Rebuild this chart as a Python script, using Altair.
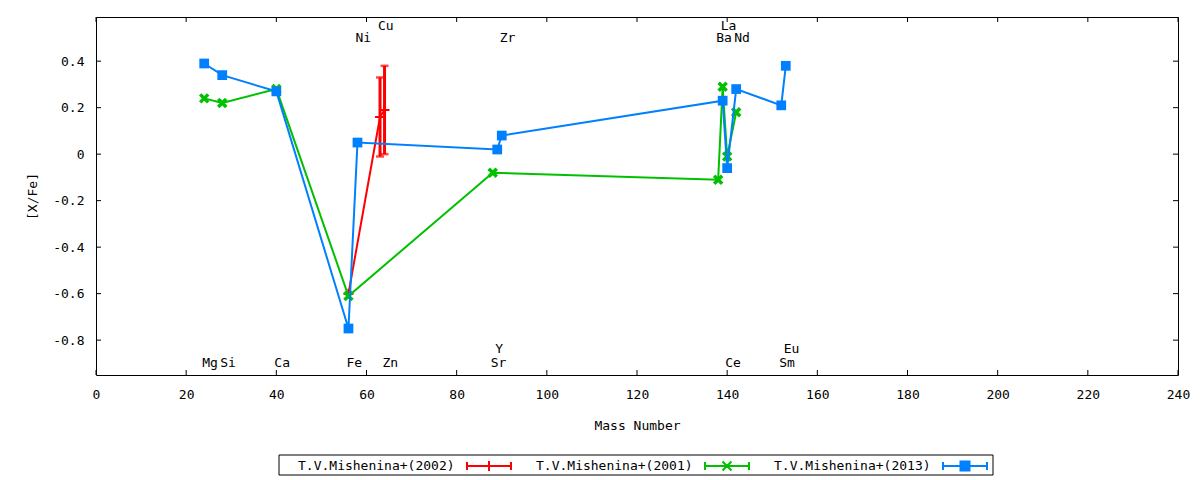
import altair as alt
import pandas as pd

FONT = "DejaVu Sans Mono"

series_names = ["T.V.Mishenina+(2002)", "T.V.Mishenina+(2001)", "T.V.Mishenina+(2013)"]
series_colors = ["#ff0000", "#00c000", "#0080ff"]

red_mass = [56, 63, 64]
red_val = [-0.60, 0.16, 0.19]
red_err = [0.0, 0.17, 0.19]

green_mass = [24, 28, 40, 56, 88, 138, 139, 140, 142]
green_val = [0.24, 0.22, 0.28, -0.61, -0.08, -0.11, 0.29, -0.01, 0.18]

blue_mass = [24, 28, 40, 56, 58, 89, 90, 139, 140, 142, 152, 153]
blue_val = [0.39, 0.34, 0.27, -0.75, 0.05, 0.02, 0.08, 0.23, -0.06, 0.28, 0.21, 0.38]

el_names = ["Mg", "Si", "Ca", "Fe", "Ni", "Cu", "Zn", "Sr", "Y", "Zr", "Ba", "La", "Ce", "Nd", "Sm", "Eu"]
el_mass = [24, 28, 40, 56, 58, 63, 64, 88, 89, 90, 138, 139, 140, 142, 152, 153]
el_label_y = [-0.90, -0.90, -0.90, -0.90, 0.50, 0.55, -0.90, -0.90, -0.84, 0.50, 0.50, 0.55, -0.90, 0.50, -0.90, -0.84]

x_ticks = [0, 20, 40, 60, 80, 100, 120, 140, 160, 180, 200, 220, 240]
y_ticks = [-0.8, -0.6, -0.4, -0.2, 0.0, 0.2, 0.4]

W, H = 1082, 358

xs = alt.Scale(domain=[0, 240], nice=False, zero=False)
ys = alt.Scale(domain=[-0.95, 0.59], nice=False, zero=False)

xax = alt.Axis(values=x_ticks, title="Mass Number", grid=False, ticks=False, tickSize=0,
               domain=False, labelPadding=19, labelBaseline="middle", labelFlush=False,
               labelOverlap=False, labelFont=FONT, labelFontSize=13, labelColor="black",
               titleFont=FONT, titleFontSize=13, titleFontWeight="normal", titleColor="black",
               titleY=50, titleBaseline="middle")
yax = alt.Axis(values=y_ticks, title="[X/Fe]", grid=False, ticks=False, tickSize=0,
               domain=False, labelPadding=12, labelFlush=False, labelOverlap=False,
               labelFont=FONT, labelFontSize=13, labelColor="black",
               labelExpr="datum.value == 0 ? '0' : (datum.value < 0 ? '-' : '') + format(abs(datum.value), '.1f')",
               titleFont=FONT, titleFontSize=13, titleFontWeight="normal", titleColor="black",
               titleX=-64, titleBaseline="middle")


def X(field):
    return alt.X(field, type="quantitative", scale=xs, axis=xax)


def Y(field):
    return alt.Y(field, type="quantitative", scale=ys, axis=yax)


# inward tick marks on all four borders
xt = pd.DataFrame({"v": x_ticks})
yt = pd.DataFrame({"v": y_ticks})
ticks_bottom = alt.Chart(xt).mark_rule(color="black", strokeWidth=1).encode(
    x=X("v"), y=alt.value(H), y2=alt.value(H - 5))
ticks_top = alt.Chart(xt).mark_rule(color="black", strokeWidth=1).encode(
    x=X("v"), y=alt.value(0), y2=alt.value(5))
ticks_left = alt.Chart(yt).mark_rule(color="black", strokeWidth=1).encode(
    y=Y("v"), x=alt.value(0), x2=alt.value(5))
ticks_right = alt.Chart(yt).mark_rule(color="black", strokeWidth=1).encode(
    y=Y("v"), x=alt.value(W), x2=alt.value(W - 5))

# element labels
el_df = pd.DataFrame({"name": el_names, "mass": el_mass, "ly": el_label_y})
labels = alt.Chart(el_df).mark_text(align="left", baseline="middle", dx=-2, font=FONT,
                                    fontSize=13, color="black").encode(
    x=X("mass"), y=Y("ly"), text="name:N")

# legend box
legend_box = alt.Chart(pd.DataFrame({"a": [0]})).mark_rect(
    filled=False, stroke="black", strokeWidth=1).encode(
    x=alt.value(183), x2=alt.value(897), y=alt.value(438), y2=alt.value(458))

# legend samples: unit = 5px (symbolSize 100)
cap_path = "M-4.4,0H4.4M-4.4,-0.8V0.8M4.4,-0.8V0.8"
legend_paths = [
    cap_path + "M0,-1V1",
    cap_path + "M-0.9,-0.9L0.9,0.9M-0.9,0.9L0.9,-0.9",
    cap_path + "M-0.9,-0.9H0.9V0.9H-0.9Z",
]
legend_x = [202, 440, 678]


def series_layer(idx, mass, val, point_kw, err=None):
    name = series_names[idx]
    color = series_colors[idx]
    df = pd.DataFrame({"mass": mass, "val": val, "i": list(range(len(mass)))})
    df["series"] = name
    base = alt.Chart(df).encode(x=X("mass"), y=Y("val"))
    leg = alt.Legend(orient="none", legendX=legend_x[idx], legendY=443, title=name,
                     titleOrient="left", titleFont=FONT, titleFontSize=13,
                     titleFontWeight="normal", titleColor="black", titlePadding=28,
                     titleAnchor="start", titleBaseline="top", labelExpr="''",
                     labelOffset=0, padding=0, symbolType=legend_paths[idx],
                     symbolSize=100, symbolStrokeWidth=2, symbolStrokeColor=color,
                     symbolFillColor=(color if idx == 2 else "transparent"))
    line = base.mark_line(strokeWidth=2).encode(
        color=alt.Color("series:N", scale=alt.Scale(domain=[name], range=[color]), legend=leg),
        order="i:Q")
    layers = [line]
    if err is not None:
        df["lo"] = [v - e for v, e in zip(val, err)]
        df["hi"] = [v + e for v, e in zip(val, err)]
        eb = alt.Chart(df).encode(x=X("mass"))
        layers.append(eb.mark_rule(color=color, strokeWidth=3).encode(y=Y("lo"), y2="hi"))
        layers.append(eb.mark_tick(orient="horizontal", size=8, thickness=2.5, color=color).encode(y=Y("lo")))
        layers.append(eb.mark_tick(orient="horizontal", size=8, thickness=2.5, color=color).encode(y=Y("hi")))
    layers.append(base.mark_point(opacity=1, **point_kw))
    return alt.layer(*layers)


red = series_layer(0, red_mass, red_val,
                   dict(shape="M-1,0H1M0,-1V1", filled=False, stroke="#ff0000", strokeWidth=2, size=100),
                   err=red_err)
green = series_layer(1, green_mass, green_val,
                     dict(shape="M-1,-1L1,1M-1,1L1,-1", filled=False, stroke="#00c000", strokeWidth=3.5, size=64))
blue = series_layer(2, blue_mass, blue_val,
                    dict(shape="square", filled=True, fill="#0080ff", strokeWidth=0, size=95))

chart = alt.layer(
    ticks_bottom, ticks_top, ticks_left, ticks_right, labels, legend_box, red, green, blue
).resolve_scale(color="independent").properties(
    width=W, height=H,
    autosize=alt.AutoSizeParams(type="none"),
    padding={"left": 88, "top": 9, "right": 12, "bottom": 105},
    background="white",
).configure_view(stroke="black", strokeWidth=1)

chart.save("out.html", embed_options={"renderer": "svg", "actions": False})
